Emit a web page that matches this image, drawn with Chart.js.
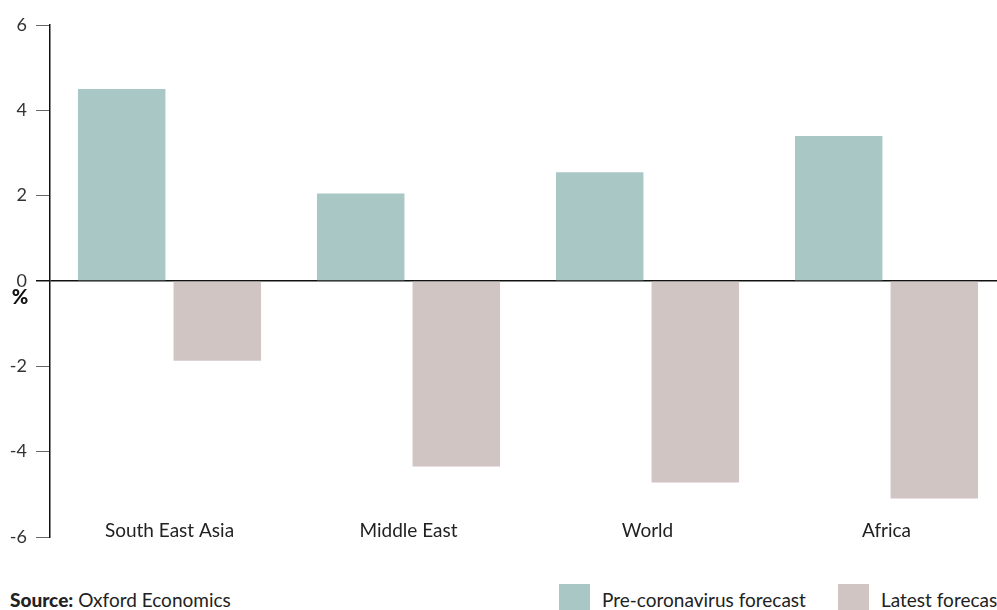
<!DOCTYPE html>
<html>
<head>
<meta charset="utf-8">
<script src="https://cdn.jsdelivr.net/npm/chart.js@4"></script>
<style>
  html, body { margin: 0; padding: 0; background: #fff; overflow: hidden; }
  #frame { position: relative; width: 997px; height: 610px; overflow: hidden; font-family: Lato, "Open Sans", sans-serif; color: #222; }
  #wrap { position: absolute; left: 0; top: 0; width: 1010px; height: 560px; }
  #source { position: absolute; left: 10px; top: 588px; font-size: 19px; white-space: nowrap; }
  #source b { font-weight: 900; }
  .leg { position: absolute; top: 584px; font-size: 19px; white-space: nowrap; display: flex; align-items: flex-start; }
  .leg i { display: inline-block; width: 31px; height: 31px; margin-right: 12px; }
  .leg span { margin-top: 4px; }
</style>
</head>
<body>
<div id="frame">
  <div id="wrap"><canvas id="chart"></canvas></div>
  <div id="source"><b>Source:</b> Oxford Economics</div>
  <div class="leg" style="left:559px"><i style="background:#a8c7c5"></i><span>Pre-coronavirus forecast</span></div>
  <div class="leg" style="left:838px"><i style="background:#d0c5c3"></i><span>Latest forecast</span></div>
</div>
<script>
// Regions and GDP forecast values (%)
const regions = ['South East Asia', 'Middle East', 'World', 'Africa'];
const preCoronavirus = [4.5, 2.05, 2.55, 3.4];
const latestForecast = [-1.87, -4.35, -4.72, -5.1];
const yTicks = [-6, -4, -2, 0, 2, 4, 6];

const GREEN = '#a8c7c5';
const PINK = '#d0c5c3';
const FONT = 'Lato, "Open Sans", sans-serif';

// draws the bold "%" just under the zero tick label
const percentLabel = {
    id: 'percentLabel',
    afterDraw(chart) {
        const y = chart.scales.y;
        const ctx = chart.ctx;
        ctx.save();
        ctx.font = '900 20px ' + FONT;
        ctx.fillStyle = '#111';
        ctx.textAlign = 'center';
        ctx.textBaseline = 'middle';
        ctx.fillText('%', 20, y.getPixelForValue(0) + 17);
        ctx.restore();
    }
};

new Chart(document.getElementById('chart'), {
    type: 'bar',
    data: {
        labels: regions,
        datasets: [
            { label: 'Pre-coronavirus forecast', data: preCoronavirus, backgroundColor: GREEN },
            { label: 'Latest forecast', data: latestForecast, backgroundColor: PINK }
        ]
    },
    options: {
        responsive: true,
        maintainAspectRatio: false,
        animation: false,
        layout: { padding: { top: 25, right: 4, left: 0, bottom: 0 } },
        categoryPercentage: 0.8,
        barPercentage: 0.915,
        plugins: {
            legend: { display: false },
            tooltip: { enabled: false }
        },
        scales: {
            x: {
                grid: { display: false, drawTicks: false },
                border: { display: false },
                ticks: {
                    mirror: true,
                    padding: -5,
                    color: '#222',
                    font: { family: FONT, size: 19 }
                },
                afterFit: (s) => { s.height = 23; }
            },
            y: {
                min: -6,
                max: 6,
                afterBuildTicks: (s) => { s.ticks = yTicks.map(v => ({ value: v })); },
                afterFit: (s) => { s.width = 50; },
                border: { display: true, color: '#111', width: 1.5 },
                grid: {
                    drawOnChartArea: true,
                    tickLength: 14,
                    color: (c) => c.tick && c.tick.value === 0 ? '#111' : 'rgba(0,0,0,0)',
                    tickColor: (c) => c.tick && c.tick.value === 0 ? '#111' : '#666',
                    lineWidth: (c) => c.tick && c.tick.value === 0 ? 1.5 : 1
                },
                ticks: {
                    padding: 9,
                    color: '#333',
                    font: { family: FONT, size: 18 }
                }
            }
        }
    },
    plugins: [percentLabel]
});
</script>
</body>
</html>
